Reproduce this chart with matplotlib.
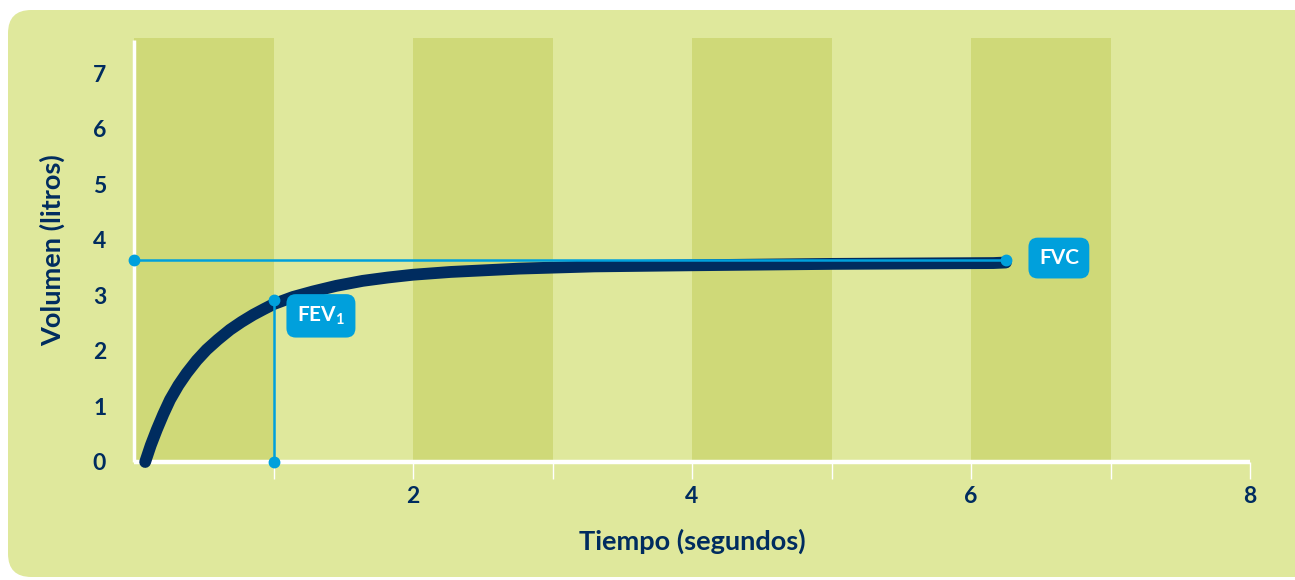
import matplotlib
matplotlib.use("Agg")
import matplotlib.pyplot as plt
from matplotlib.patches import FancyBboxPatch

plt.rcParams['font.family'] = ['Lato', 'DejaVu Sans']

# Data
time_s = [0.08, 0.12, 0.163, 0.21, 0.258, 0.318, 0.378, 0.45, 0.52, 0.6, 0.688, 0.77,
          0.855, 0.93, 1.0, 1.14, 1.285, 1.45, 1.64, 1.82, 2.0, 2.27, 2.76, 3.3,
          4.0, 5.0, 6.16, 6.25]
volume_l = [0.0, 0.3, 0.58, 0.86, 1.12, 1.38, 1.6, 1.83, 2.02, 2.2, 2.38, 2.52,
            2.65, 2.75, 2.84, 2.97, 3.07, 3.17, 3.26, 3.32, 3.37, 3.42, 3.48, 3.52,
            3.54, 3.565, 3.58, 3.59]
fvc_value = 3.64
fvc_time = 6.25
fev1_time = 1.0
fev1_value = 2.91
band_starts = [0, 2, 4, 6]
band_width = 1
x_ticks = [1, 2, 3, 4, 5, 6, 7, 8]
x_ticklabels = ['', '2', '', '4', '', '6', '', '8']
y_ticks = [0, 1, 2, 3, 4, 5, 6, 7]
x_label = 'Tiempo (segundos)'
y_label = 'Volumen (litros)'

navy = '#002c5f'
blue = '#00a0dc'
light_bg = '#dfe89c'
band_col = '#cfd978'

fig = plt.figure(figsize=(12.95, 5.8), dpi=100)
fig.patch.set_facecolor('white')
bg = FancyBboxPatch((8 / 1295, 3 / 580), 1.05, 567 / 580,
                    boxstyle="round,pad=0,rounding_size=0.018",
                    transform=fig.transFigure, fc=light_bg, ec='none',
                    mutation_aspect=1295 / 580, zorder=-5)
fig.patches.append(bg)

ax = fig.add_axes([134 / 1295, (580 - 462) / 580, (1250 - 134) / 1295, (462 - 38) / 580])
ax.set_zorder(1)
ax.set_facecolor('none')
ax.set_xlim(0, 8)
ax.set_ylim(0, 7.63)
for s in ax.spines.values():
    s.set_visible(False)

for b in band_starts:
    ax.axvspan(b, b + band_width, ymin=0, ymax=1, color=band_col, lw=0, zorder=1)

# white axes lines
ax.plot([0, 0], [0, 7.6], color='white', lw=2.5, zorder=2, clip_on=False, solid_capstyle='butt')
ax.plot([0, 8], [0, 0], color='white', lw=3.2, zorder=2, clip_on=False, solid_capstyle='butt')

ax.set_xticks(x_ticks)
ax.set_xticklabels(x_ticklabels)
ax.set_yticks(y_ticks)
ax.tick_params(axis='x', direction='out', length=12, width=1, color='white', pad=5,
               labelsize=16.5, labelcolor=navy)
ax.tick_params(axis='y', length=0, pad=20, labelsize=16.5, labelcolor=navy)
for lab in ax.get_xticklabels() + ax.get_yticklabels():
    lab.set_fontweight('bold')

ax.set_xlabel(x_label, fontsize=19.5, fontweight='bold', color=navy, labelpad=16)
ax.set_ylabel(y_label, fontsize=19.5, fontweight='bold', color=navy, labelpad=20)

# curve
ax.plot(time_s, volume_l, color=navy, lw=8.5, solid_capstyle='round',
        solid_joinstyle='round', zorder=3, clip_on=False)

# FVC line
ax.plot([0, fvc_time], [fvc_value, fvc_value], color=blue, lw=1.8, zorder=4, clip_on=False)
ax.plot([0, fvc_time], [fvc_value, fvc_value], 'o', color=blue, ms=7.5, zorder=5, clip_on=False)
# FEV1 line
ax.plot([fev1_time, fev1_time], [0, fev1_value], color=blue, lw=1.8, zorder=4, clip_on=False)
ax.plot([fev1_time, fev1_time], [0, fev1_value], 'o', color=blue, ms=7.5, zorder=5, clip_on=False)

box = dict(boxstyle='round,pad=0.5,rounding_size=0.45', fc=blue, ec='none')
ax.text(1.34, 2.63, r'FEV$_\mathregular{1}$', color='white', fontsize=15, fontweight='bold',
        ha='center', va='center', bbox=box, zorder=6)
ax.text(6.63, 3.67, 'FVC', color='white', fontsize=15, fontweight='bold',
        ha='center', va='center', bbox=box, zorder=6)

fig.savefig('out.png', dpi=100)
